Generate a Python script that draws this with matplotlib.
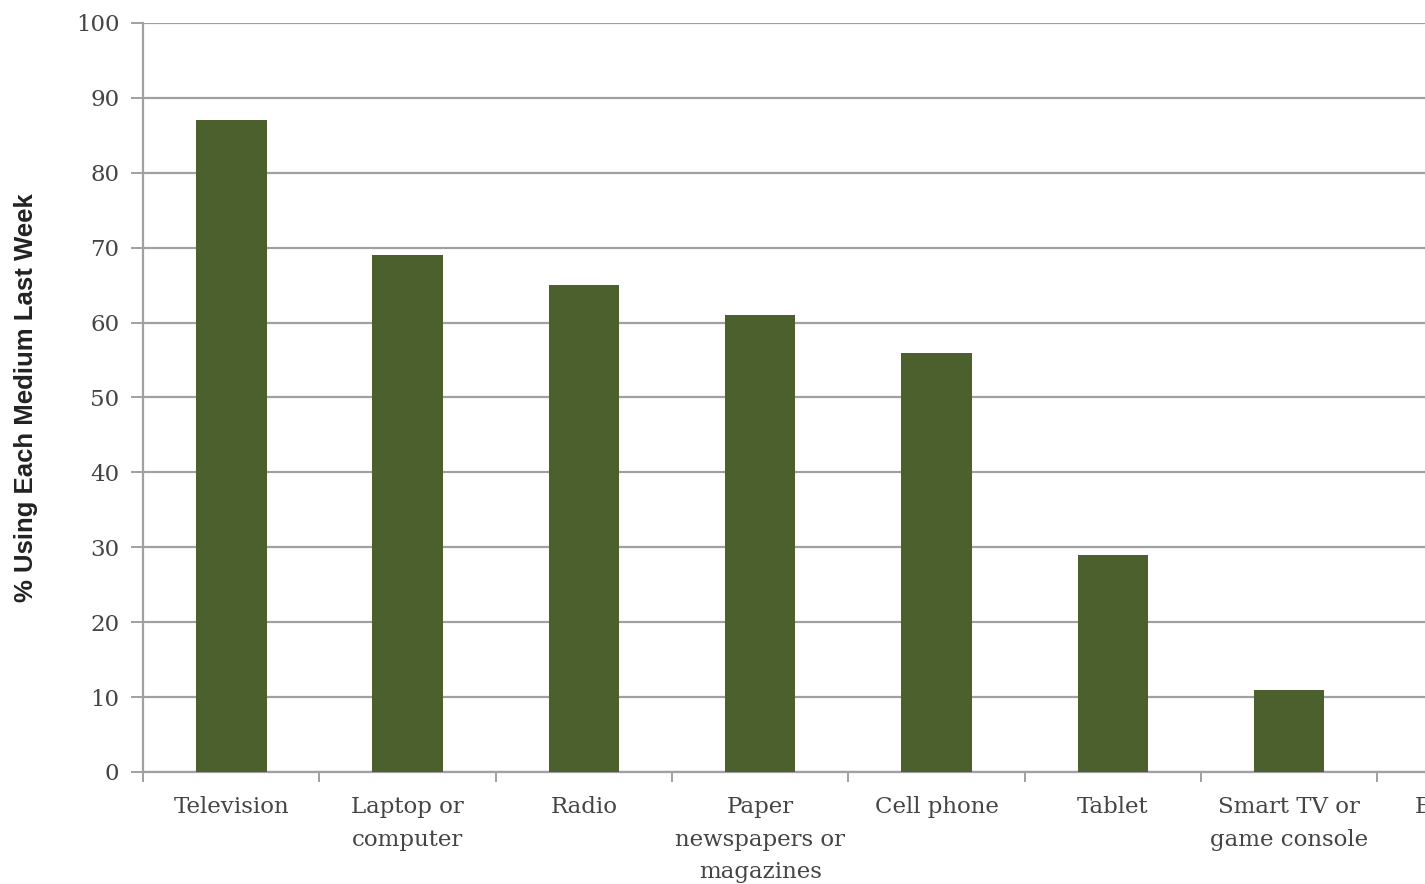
import matplotlib.pyplot as plt
import numpy as np

# share of people using each medium in the last week
media = ['Television', 'Laptop or\ncomputer', 'Radio', 'Paper\nnewspapers or\nmagazines',
         'Cell phone', 'Tablet', 'Smart TV or\ngame console', 'E-reader']
pct_used = [87, 69, 65, 61, 56, 29, 11, 8]
y_ticks = [0, 10, 20, 30, 40, 50, 60, 70, 80, 90, 100]

bar_color = '#4b602d'
grid_color = '#a0a0a0'
text_color = '#444444'

fig = plt.figure(figsize=(14.25, 8.84), dpi=100)
ax = fig.add_axes([0.1004, 0.1267, 0.8996, 0.8473])

x = np.arange(len(media))
ax.bar(x, pct_used, width=0.4, color=bar_color, zorder=3)

ax.set_yticks(y_ticks)
ax.yaxis.grid(True, color=grid_color, linewidth=1.6, zorder=0)

# boundary ticks between categories, labels written underneath
ax.set_xticks(np.arange(len(media) + 1) - 0.5)
ax.set_xticklabels([])
ax.tick_params(axis='x', length=7, width=1.4, color=grid_color)
ax.tick_params(axis='y', length=9, width=1.4, color=grid_color, pad=8)
for tl in ax.get_yticklabels():
    tl.set_fontfamily('DejaVu Serif')
    tl.set_fontsize(16.5)
    tl.set_color(text_color)

for xi, name in zip(x, media):
    ax.annotate(name, xy=(xi, 0), xycoords=('data', 'axes fraction'),
                xytext=(0, -17.5), textcoords='offset points',
                ha='center', va='top', fontsize=16.5, family='DejaVu Serif',
                color=text_color, linespacing=1.6, annotation_clip=False)

# the last category runs off the right edge
ax.set_ylim(0, 100)
ax.set_xlim(-0.5, 6.77)

for side in ['top', 'right']:
    ax.spines[side].set_visible(False)
for side in ['left', 'bottom']:
    ax.spines[side].set_color(grid_color)
    ax.spines[side].set_linewidth(1.6)

ax.set_ylabel('% Using Each Medium Last Week', fontsize=18.5, fontweight='bold',
              fontfamily='Liberation Sans', color='#222222', labelpad=27)

fig.savefig('out.png', dpi=100)
